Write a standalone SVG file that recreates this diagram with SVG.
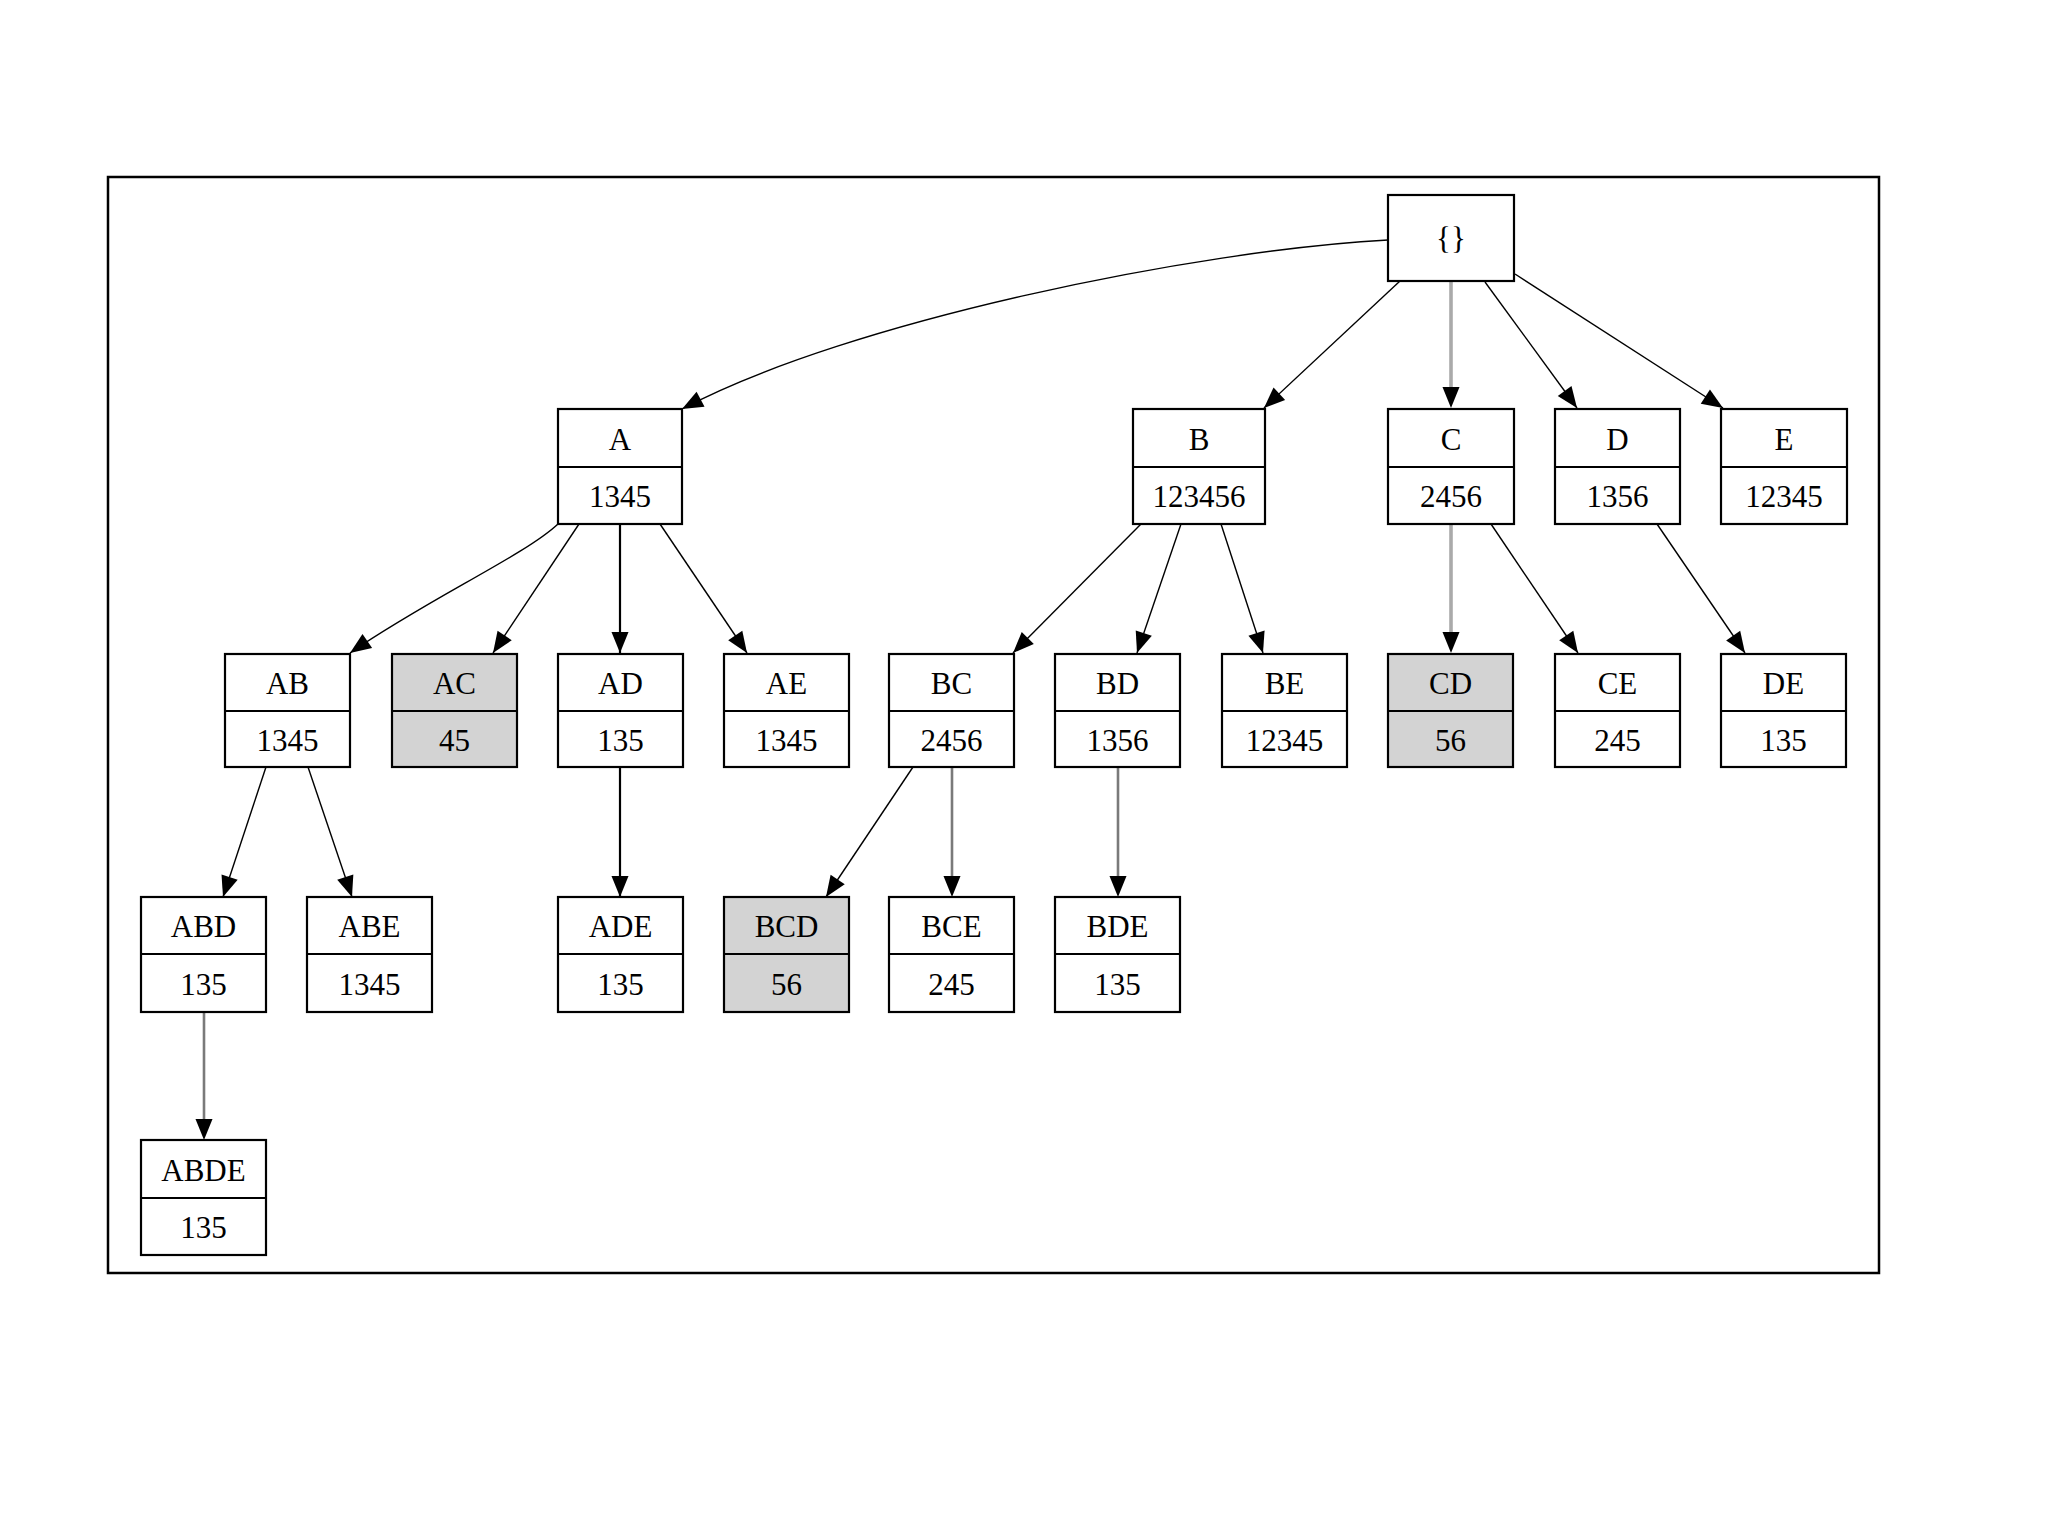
<svg xmlns="http://www.w3.org/2000/svg" width="2048" height="1536" viewBox="0 0 2048 1536">
<style>
.box{fill:#ffffff;stroke:#000;stroke-width:2.2}
.hl{fill:#d3d3d3}
.div{stroke:#000;stroke-width:2.2}
.t{font-family:"Liberation Serif","Times New Roman",serif;font-size:31px;fill:#000;text-anchor:middle}
.e{fill:none;stroke:#000;stroke-width:1.4}
.es{fill:none;stroke:#000;stroke-width:2.2}
.eg{fill:none;stroke:#aaaaaa;stroke-width:3.6}
.em{fill:none;stroke:#7a7a7a;stroke-width:2.6}
.frame{fill:none;stroke:#000;stroke-width:2.5}
</style>
<defs>
<marker id="ah" markerUnits="userSpaceOnUse" markerWidth="22" markerHeight="17" refX="21" refY="8.5" orient="auto" overflow="visible">
<path d="M0,0 L21,8.5 L0,17 Z" fill="#000"/>
</marker>
<marker id="ab" markerUnits="userSpaceOnUse" markerWidth="22" markerHeight="17" refX="0" refY="8.5" orient="auto" overflow="visible">
<path d="M0,0 L21,8.5 L0,17 Z" fill="#000"/>
</marker>
</defs>
<rect x="0" y="0" width="2048" height="1536" fill="#ffffff"/>
<rect class="frame" x="108" y="177" width="1771" height="1096"/>
<g id="connectors">
<path class="e" d="M1388,240 C1200,250 850,320 682,409" marker-end="url(#ah)"/>
<path class="e" d="M1400,281 L1264,408" marker-end="url(#ah)"/>
<path class="eg" d="M1451,281 L1451,387" marker-end="url(#ab)"/>
<path class="e" d="M1485,282 L1577,408" marker-end="url(#ah)"/>
<path class="e" d="M1515,274 L1723,408" marker-end="url(#ah)"/>
<path class="e" d="M558,524 C525,555 430,598 350,653" marker-end="url(#ah)"/>
<path class="e" d="M579,524 L493,653" marker-end="url(#ah)"/>
<path class="es" d="M620,524 L620,653" marker-end="url(#ah)"/>
<path class="e" d="M660,524 L747,653" marker-end="url(#ah)"/>
<path class="e" d="M1141,524 L1013,653" marker-end="url(#ah)"/>
<path class="e" d="M1181,524 L1137,653" marker-end="url(#ah)"/>
<path class="e" d="M1221,524 L1263,653" marker-end="url(#ah)"/>
<path class="eg" d="M1451,524 L1451,632" marker-end="url(#ab)"/>
<path class="e" d="M1491,524 L1578,653" marker-end="url(#ah)"/>
<path class="e" d="M1657,524 L1745,653" marker-end="url(#ah)"/>
<path class="e" d="M266,767 L223,897" marker-end="url(#ah)"/>
<path class="e" d="M308,767 L352,897" marker-end="url(#ah)"/>
<path class="em" d="M204,1012 L204,1119" marker-end="url(#ab)"/>
<path class="es" d="M620,767 L620,897" marker-end="url(#ah)"/>
<path class="e" d="M913,767 L826,897" marker-end="url(#ah)"/>
<path class="em" d="M952,767 L952,876" marker-end="url(#ab)"/>
<path class="em" d="M1118,767 L1118,876" marker-end="url(#ab)"/>
</g>
<g id="n_root"><rect class="box" x="1388" y="195" width="126" height="86"/><text class="t" x="1451" y="249">{}</text></g>
<g id="n_A"><rect class="box" x="558" y="409" width="124" height="115"/><line class="div" x1="558" y1="467" x2="682" y2="467"/><text class="t" x="620" y="450">A</text><text class="t" x="620" y="507">1345</text></g>
<g id="n_B"><rect class="box" x="1133" y="409" width="132" height="115"/><line class="div" x1="1133" y1="467" x2="1265" y2="467"/><text class="t" x="1199" y="450">B</text><text class="t" x="1199" y="507">123456</text></g>
<g id="n_C"><rect class="box" x="1388" y="409" width="126" height="115"/><line class="div" x1="1388" y1="467" x2="1514" y2="467"/><text class="t" x="1451" y="450">C</text><text class="t" x="1451" y="507">2456</text></g>
<g id="n_D"><rect class="box" x="1555" y="409" width="125" height="115"/><line class="div" x1="1555" y1="467" x2="1680" y2="467"/><text class="t" x="1617.5" y="450">D</text><text class="t" x="1617.5" y="507">1356</text></g>
<g id="n_E"><rect class="box" x="1721" y="409" width="126" height="115"/><line class="div" x1="1721" y1="467" x2="1847" y2="467"/><text class="t" x="1784" y="450">E</text><text class="t" x="1784" y="507">12345</text></g>
<g id="n_AB"><rect class="box" x="225" y="654" width="125" height="113"/><line class="div" x1="225" y1="711" x2="350" y2="711"/><text class="t" x="287.5" y="694">AB</text><text class="t" x="287.5" y="751">1345</text></g>
<g id="n_AC"><rect class="box hl" x="392" y="654" width="125" height="113"/><line class="div" x1="392" y1="711" x2="517" y2="711"/><text class="t" x="454.5" y="694">AC</text><text class="t" x="454.5" y="751">45</text></g>
<g id="n_AD"><rect class="box" x="558" y="654" width="125" height="113"/><line class="div" x1="558" y1="711" x2="683" y2="711"/><text class="t" x="620.5" y="694">AD</text><text class="t" x="620.5" y="751">135</text></g>
<g id="n_AE"><rect class="box" x="724" y="654" width="125" height="113"/><line class="div" x1="724" y1="711" x2="849" y2="711"/><text class="t" x="786.5" y="694">AE</text><text class="t" x="786.5" y="751">1345</text></g>
<g id="n_BC"><rect class="box" x="889" y="654" width="125" height="113"/><line class="div" x1="889" y1="711" x2="1014" y2="711"/><text class="t" x="951.5" y="694">BC</text><text class="t" x="951.5" y="751">2456</text></g>
<g id="n_BD"><rect class="box" x="1055" y="654" width="125" height="113"/><line class="div" x1="1055" y1="711" x2="1180" y2="711"/><text class="t" x="1117.5" y="694">BD</text><text class="t" x="1117.5" y="751">1356</text></g>
<g id="n_BE"><rect class="box" x="1222" y="654" width="125" height="113"/><line class="div" x1="1222" y1="711" x2="1347" y2="711"/><text class="t" x="1284.5" y="694">BE</text><text class="t" x="1284.5" y="751">12345</text></g>
<g id="n_CD"><rect class="box hl" x="1388" y="654" width="125" height="113"/><line class="div" x1="1388" y1="711" x2="1513" y2="711"/><text class="t" x="1450.5" y="694">CD</text><text class="t" x="1450.5" y="751">56</text></g>
<g id="n_CE"><rect class="box" x="1555" y="654" width="125" height="113"/><line class="div" x1="1555" y1="711" x2="1680" y2="711"/><text class="t" x="1617.5" y="694">CE</text><text class="t" x="1617.5" y="751">245</text></g>
<g id="n_DE"><rect class="box" x="1721" y="654" width="125" height="113"/><line class="div" x1="1721" y1="711" x2="1846" y2="711"/><text class="t" x="1783.5" y="694">DE</text><text class="t" x="1783.5" y="751">135</text></g>
<g id="n_ABD"><rect class="box" x="141" y="897" width="125" height="115"/><line class="div" x1="141" y1="954" x2="266" y2="954"/><text class="t" x="203.5" y="937">ABD</text><text class="t" x="203.5" y="995">135</text></g>
<g id="n_ABE"><rect class="box" x="307" y="897" width="125" height="115"/><line class="div" x1="307" y1="954" x2="432" y2="954"/><text class="t" x="369.5" y="937">ABE</text><text class="t" x="369.5" y="995">1345</text></g>
<g id="n_ADE"><rect class="box" x="558" y="897" width="125" height="115"/><line class="div" x1="558" y1="954" x2="683" y2="954"/><text class="t" x="620.5" y="937">ADE</text><text class="t" x="620.5" y="995">135</text></g>
<g id="n_BCD"><rect class="box hl" x="724" y="897" width="125" height="115"/><line class="div" x1="724" y1="954" x2="849" y2="954"/><text class="t" x="786.5" y="937">BCD</text><text class="t" x="786.5" y="995">56</text></g>
<g id="n_BCE"><rect class="box" x="889" y="897" width="125" height="115"/><line class="div" x1="889" y1="954" x2="1014" y2="954"/><text class="t" x="951.5" y="937">BCE</text><text class="t" x="951.5" y="995">245</text></g>
<g id="n_BDE"><rect class="box" x="1055" y="897" width="125" height="115"/><line class="div" x1="1055" y1="954" x2="1180" y2="954"/><text class="t" x="1117.5" y="937">BDE</text><text class="t" x="1117.5" y="995">135</text></g>
<g id="n_ABDE"><rect class="box" x="141" y="1140" width="125" height="115"/><line class="div" x1="141" y1="1198" x2="266" y2="1198"/><text class="t" x="203.5" y="1181">ABDE</text><text class="t" x="203.5" y="1238">135</text></g>
</svg>
